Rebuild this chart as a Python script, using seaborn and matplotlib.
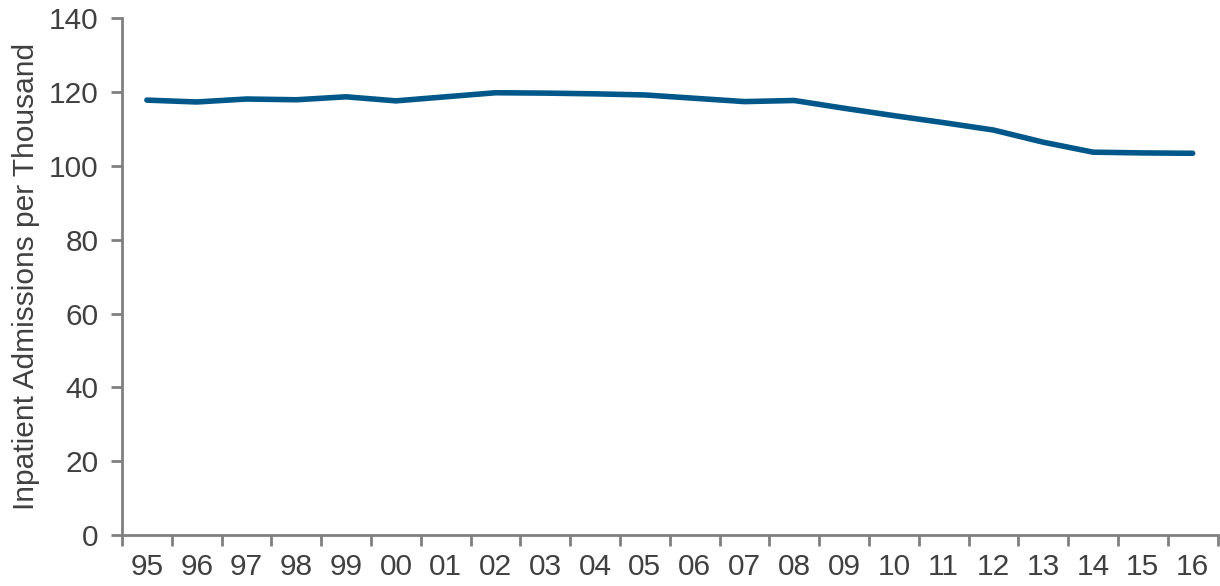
import numpy as np
import pandas as pd
import seaborn as sns
import matplotlib.pyplot as plt
from matplotlib.ticker import FixedLocator, NullFormatter

years = ["95", "96", "97", "98", "99", "00", "01", "02", "03", "04", "05",
         "06", "07", "08", "09", "10", "11", "12", "13", "14", "15", "16"]
admissions = [117.8, 117.3, 118.1, 117.9, 118.7, 117.6, 118.7, 119.8, 119.7, 119.5, 119.2,
              118.3, 117.4, 117.7, 115.6, 113.6, 111.7, 109.7, 106.4, 103.7, 103.5, 103.4]
y_ticks = [0, 20, 40, 60, 80, 100, 120, 140]

sns.set_style("white")
plt.rcParams['font.family'] = ['Liberation Sans', 'DejaVu Sans']

df = pd.DataFrame({"pos": np.arange(len(years)), "value": admissions})

fig = plt.figure(figsize=(12.2, 5.86), dpi=100)
ax = fig.add_axes([0.1, 0.087, 0.898, 0.882])

sns.lineplot(data=df, x="pos", y="value", color="#00578A", linewidth=4,
             solid_capstyle="round", ax=ax)

ax.set_xlim(-0.5, len(years) - 0.5)
ax.set_ylim(0, 140)
ax.set_yticks(y_ticks)
ax.set_yticklabels([str(t) for t in y_ticks])

# ticks between categories, labels at the centres
ax.xaxis.set_major_locator(FixedLocator(np.arange(-0.5, len(years), 1.0)))
ax.xaxis.set_major_formatter(NullFormatter())
ax.xaxis.set_minor_locator(FixedLocator(np.arange(len(years))))
ax.set_xticklabels(years, minor=True)
ax.tick_params(axis="x", which="minor", bottom=True, length=0, pad=13,
               labelsize=21.5, labelcolor="#404040")
ax.tick_params(axis="x", which="major", bottom=True, length=8, width=2,
               color="#808080", direction="out")
ax.tick_params(axis="y", left=True, length=8, width=2, color="#808080", direction="out",
               labelsize=21.5, labelcolor="#404040", pad=9)

for side in ["top", "right"]:
    ax.spines[side].set_visible(False)
for side in ["left", "bottom"]:
    ax.spines[side].set_color("#808080")
    ax.spines[side].set_linewidth(2)

ax.set_xlabel("")
ax.set_ylabel("Inpatient Admissions per Thousand", fontsize=21.5, color="#404040", labelpad=6)

fig.savefig("out.png", dpi=100)
